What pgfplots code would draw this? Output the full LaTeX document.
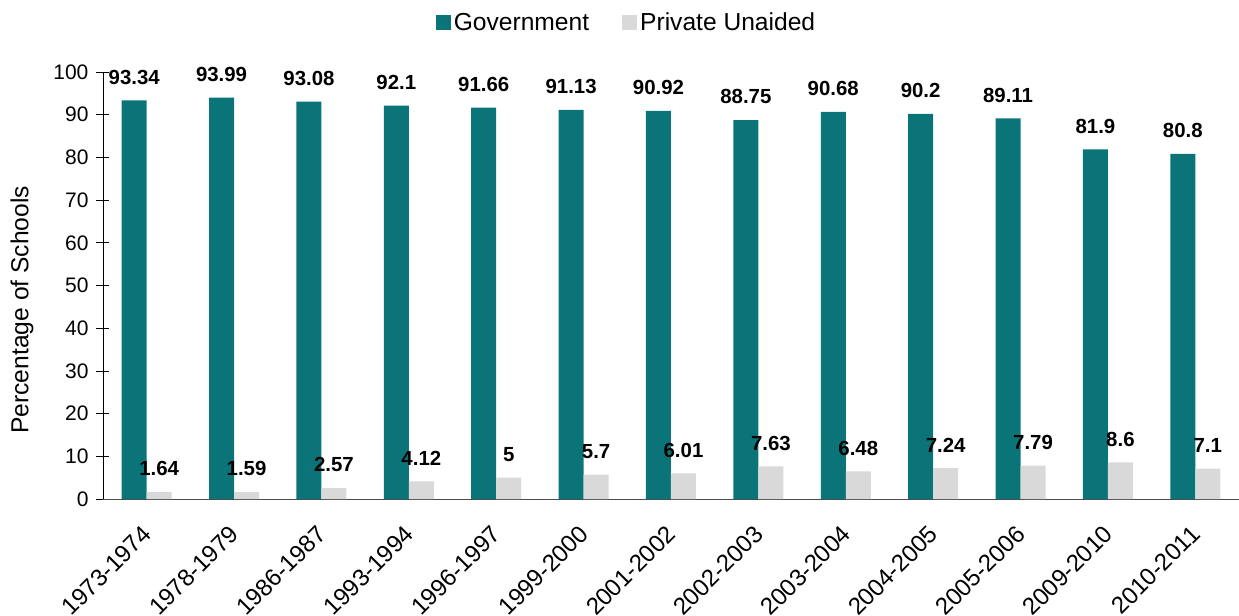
\documentclass[border=0pt]{standalone}
\usepackage{pgfplots}
\pgfplotsset{compat=1.18}
\usepackage{fontspec}
\setmainfont{Liberation Sans}
\definecolor{govt}{HTML}{0B7479}
\definecolor{priv}{HTML}{D9D9D9}
\begin{document}
\begin{tikzpicture}
\begin{axis}[
  scale only axis,
  width=568pt, height=213.5pt,
  xmin=-0.5, xmax=12.5, ymin=0, ymax=100,
  ybar, bar width=12.5pt,
  axis x line*=bottom, axis y line*=left,
  axis line style={-},
  x axis line style={draw=black!70},
  xtick=data,
  xticklabels={1973-1974,1978-1979,1986-1987,1993-1994,1996-1997,1999-2000,2001-2002,2002-2003,2003-2004,2004-2005,2005-2006,2009-2010,2010-2011},
  xtick style={draw=none},
  ytick={0,10,...,100},
  ytick style={draw=black, thin},
  tick align=center,
  major tick length=6.5pt,
  /pgf/number format/assume math mode=true,
  yticklabel style={font=\fontsize{10.5}{12}\selectfont, xshift=-0.5pt},
  xticklabel style={font=\fontsize{12}{14}\selectfont, rotate=45, anchor=north east, inner sep=1pt, xshift=-7.3pt, yshift=-3.3pt},
  ylabel={Percentage of Schools},
  ylabel style={font=\fontsize{12.3}{14}\selectfont, at={(rel axis cs:-0.0713,0.443)}, anchor=center},
  nodes near coords,
  every node near coord/.append style={font=\bfseries\fontsize{10.2}{12}\selectfont, black, yshift=4.5pt},
  legend style={at={(0.5,1)}, anchor=center, xshift=-22pt, yshift=24.5pt, draw=none, legend columns=-1, font=\fontsize{12.3}{14}\selectfont, nodes={inner sep=1.5pt}, /tikz/every even column/.append style={column sep=15pt}},
  legend image code/.code={\fill[#1] (0pt,-3.75pt) rectangle (7.5pt,3.75pt);},
]
\addplot[fill=govt, draw=none, bar shift=-6.25pt] coordinates {(0,93.34) (1,93.99) (2,93.08) (3,92.1) (4,91.66) (5,91.13) (6,90.92) (7,88.75) (8,90.68) (9,90.2) (10,89.11) (11,81.9) (12,80.8)};
\addplot[fill=priv, draw=none, bar shift=6.25pt] coordinates {(0,1.64) (1,1.59) (2,2.57) (3,4.12) (4,5) (5,5.7) (6,6.01) (7,7.63) (8,6.48) (9,7.24) (10,7.79) (11,8.6) (12,7.1)};
\legend{Government, Private Unaided}
\end{axis}
\pgfresetboundingbox
\path[use as bounding box] (-51.5pt,-58.5pt) rectangle (568pt,249.5pt);
\end{tikzpicture}
\end{document}
